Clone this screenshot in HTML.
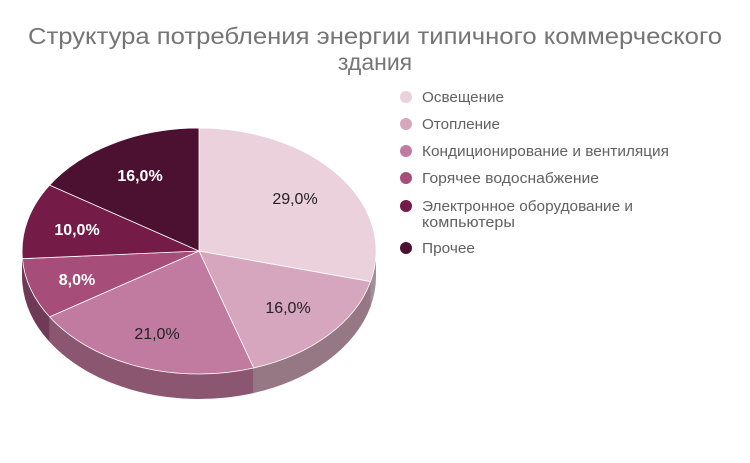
<!DOCTYPE html>
<html><head><meta charset="utf-8"><style>
body{margin:0;background:#fff;}
svg{display:block;font-family:"Liberation Sans",sans-serif;}
</style></head><body>
<svg width="750" height="463" viewBox="0 0 750 463">
<rect width="750" height="463" fill="#fff"/>
<text x="28" y="44" font-size="23" fill="#757575" textLength="694" lengthAdjust="spacingAndGlyphs">Структура потребления энергии типичного коммерческого</text>
<text x="375" y="70" text-anchor="middle" font-size="23" fill="#757575">здания</text>
<g stroke="none">
<path d="M376,251 A177,123 0 0 1 370.5,281.6 L370.5,306.6 A177,123 0 0 0 376,276 Z" fill="#a0909a"/>
<path d="M370.5,281.6 A177,123 0 0 1 253.7,368 L253.7,393 A177,123 0 0 0 370.5,306.6 Z" fill="#957883"/>
<path d="M253.7,368 A177,123 0 0 1 49.6,316.9 L49.6,341.9 A177,123 0 0 0 253.7,393 Z" fill="#8a5670"/>
<path d="M49.6,316.9 A177,123 0 0 1 22.4,258.7 L22.4,283.7 A177,123 0 0 0 49.6,341.9 Z" fill="#6f3a55"/>
<path d="M22.4,258.7 A177,123 0 0 1 22,251 L22,276 A177,123 0 0 0 22.4,283.7 Z" fill="#521330"/>
</g>
<g stroke="#fff" stroke-width="0.8">
<path d="M199,251 L199,128 A177,123 0 0 1 370.5,281.6 Z" fill="#ead1dc"/>
<path d="M199,251 L370.5,281.6 A177,123 0 0 1 253.7,368 Z" fill="#d5a6bd"/>
<path d="M199,251 L253.7,368 A177,123 0 0 1 49.6,316.9 Z" fill="#c27ba0"/>
<path d="M199,251 L49.6,316.9 A177,123 0 0 1 22.4,258.7 Z" fill="#a64d79"/>
<path d="M199,251 L22.4,258.7 A177,123 0 0 1 49.6,185.1 Z" fill="#741b47"/>
<path d="M199,251 L49.6,185.1 A177,123 0 0 1 199,128 Z" fill="#4c1130"/>
</g>
<g font-size="16" text-anchor="middle">
<text x="295" y="204" fill="#222">29,0%</text>
<text x="288" y="313" fill="#222">16,0%</text>
<text x="157" y="339" fill="#222">21,0%</text>
<text x="77" y="285" fill="#fff" font-weight="bold">8,0%</text>
<text x="77" y="235" fill="#fff" font-weight="bold">10,0%</text>
<text x="140" y="181" fill="#fff" font-weight="bold">16,0%</text>
</g>
<g font-size="14.5" fill="#616161">
<circle cx="406" cy="97" r="6" fill="#ead1dc"/><text x="422" y="102" textLength="82" lengthAdjust="spacingAndGlyphs">Освещение</text>
<circle cx="406" cy="124" r="6" fill="#d5a6bd"/><text x="422" y="129" textLength="78" lengthAdjust="spacingAndGlyphs">Отопление</text>
<circle cx="406" cy="151" r="6" fill="#c27ba0"/><text x="422" y="156" textLength="247" lengthAdjust="spacingAndGlyphs">Кондиционирование и вентиляция</text>
<circle cx="406" cy="178" r="6" fill="#a64d79"/><text x="422" y="183" textLength="177" lengthAdjust="spacingAndGlyphs">Горячее водоснабжение</text>
<circle cx="406" cy="206" r="6" fill="#741b47"/><text x="422" y="211" textLength="211" lengthAdjust="spacingAndGlyphs">Электронное оборудование и</text><text x="422" y="227" textLength="93" lengthAdjust="spacingAndGlyphs">компьютеры</text>
<circle cx="406" cy="248" r="6" fill="#4c1130"/><text x="422" y="253" textLength="53" lengthAdjust="spacingAndGlyphs">Прочее</text>
</g>
</svg>
</body></html>
